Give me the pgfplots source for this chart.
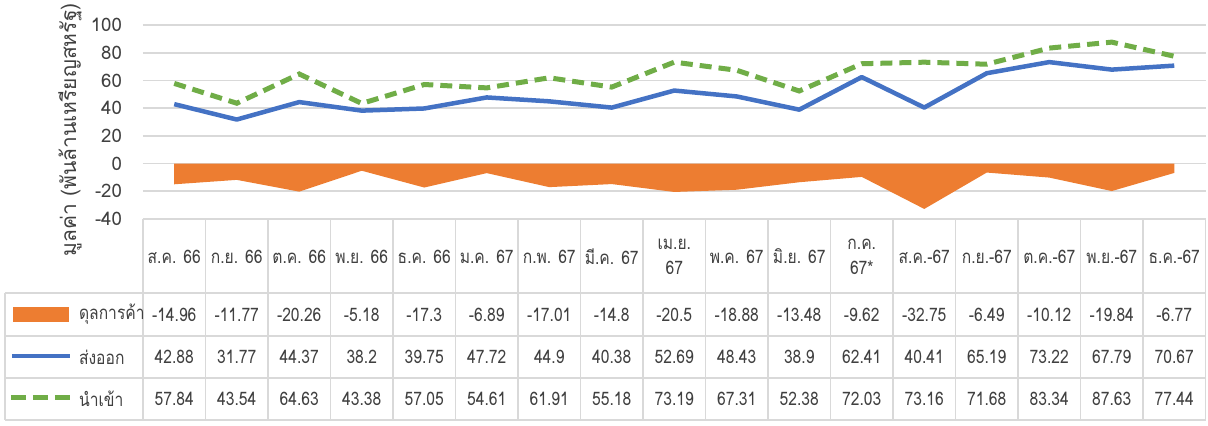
\documentclass[border=0pt]{standalone}
\usepackage{pgfplots}
\pgfplotsset{compat=1.18}
\usepackage{pgfplotstable}
\usepackage{fontspec}
\setmainfont{Loma}[Script=Thai, FakeStretch=0.84]
\newfontfamily\lomawide{Loma}[Script=Thai]
\definecolor{cOrange}{HTML}{ED7D31}
\definecolor{cBlue}{HTML}{4472C4}
\definecolor{cGreen}{HTML}{70AD47}
\definecolor{cGrid}{HTML}{D9D9D9}
\definecolor{cText}{HTML}{404040}

\pgfplotstableread{
x bal exp imp
0 -14.96 42.88 57.84
1 -11.77 31.77 43.54
2 -20.26 44.37 64.63
3 -5.18 38.2 43.38
4 -17.3 39.75 57.05
5 -6.89 47.72 54.61
6 -17.01 44.9 61.91
7 -14.8 40.38 55.18
8 -20.5 52.69 73.19
9 -18.88 48.43 67.31
10 -13.48 38.9 52.38
11 -9.62 62.41 72.03
12 -32.75 40.41 73.16
13 -6.49 65.19 71.68
14 -10.12 73.22 83.34
15 -19.84 67.79 87.63
16 -6.77 70.67 77.44
}\data

\begin{document}
\begin{tikzpicture}[font=\fontsize{9.3}{12.5}\selectfont]
\path[use as bounding box] (-71.5pt,-103.5pt) rectangle (532.5pt,109.5pt);
\begin{axis}[
  at={(0,0)}, anchor=south west, scale only axis,
  width=531.25pt, height=97pt,
  xmin=-0.5, xmax=16.5, ymin=-40, ymax=100,
  ytick={-40,-20,...,100},
  xtick={0,...,16},
  xticklabels={ส.ค. 66, ก.ย. 66, ต.ค. 66, พ.ย. 66, ธ.ค. 66, ม.ค. 67, ก.พ. 67, มี.ค. 67, {เม.ย.\\67}, พ.ค. 67, มิ.ย. 67, {ก.ค.\\67*}, ส.ค.-67, ก.ย.-67, ต.ค.-67, พ.ย.-67, ธ.ค.-67},
  xticklabel style={anchor=center, yshift=-18.75pt, align=center, text=cText},
  yticklabel style={anchor=east, xshift=-7pt, text=cText, font=\lomawide\fontsize{9.3}{11}\selectfont},
  /pgf/number format/assume math mode=true,
  major tick length=0pt,
  axis line style={draw=none},
  ymajorgrids, grid style={cGrid, line width=0.9pt},
  ylabel={มูลค่า (พันล้านเหรียญสหรัฐ)},
  every axis y label/.style={at={(axis description cs:-0.0687,0.46)}, rotate=90, anchor=center, text=cText, font=\lomawide\fontsize{10.5}{12}\selectfont},
  clip=false,
]
\addplot[fill=cOrange, draw=none] table[x=x, y=bal] {\data} \closedcycle;
\addplot[cBlue, line width=2.25pt, mark=none, line join=round] table[x=x, y=exp] {\data};
\addplot[cGreen, line width=2.5pt, mark=none, dash pattern=on 6pt off 3.5pt] table[x=x, y=imp] {\data};

\addplot[draw=none, mark=none, nodes near coords, point meta=explicit symbolic,
  nodes near coords style={anchor=center, text=cText}] table[x=x, y expr=-108.9, meta=bal] {\data};
\addplot[draw=none, mark=none, nodes near coords, point meta=explicit symbolic,
  nodes near coords style={anchor=center, text=cText}] table[x=x, y expr=-139.6, meta=exp] {\data};
\addplot[draw=none, mark=none, nodes near coords, point meta=explicit symbolic,
  nodes near coords style={anchor=center, text=cText}] table[x=x, y expr=-169.9, meta=imp] {\data};
\end{axis}

\begin{scope}[x=0.5pt, y=-0.5pt, shift={(-71.5pt,109.5pt)}]
  \foreach \yy in {293,336,378,420} \draw[cGrid, line width=0.8pt] (5,\yy) -- (1205.5,\yy);
  \draw[cGrid, line width=0.8pt] (5,293) -- (5,420);
  \foreach \k in {0,...,17} \draw[cGrid, line width=0.8pt] ({143+62.5*\k},219) -- ({143+62.5*\k},420);
  \fill[cOrange] (13,307) rectangle (69,322);
  \draw[cBlue, line width=2.25pt] (12,356) -- (70,356);
  \draw[cGreen, line width=2.5pt, dash pattern=on 7.5pt off 3.5pt] (11,398) -- (70,398);
  \node[anchor=west, text=cText] at (72,314.5) {ดุลการค้า};
  \node[anchor=west, text=cText] at (72,357) {ส่งออก};
  \node[anchor=west, text=cText] at (72,399) {นำเข้า};
\end{scope}
\end{tikzpicture}
\end{document}
